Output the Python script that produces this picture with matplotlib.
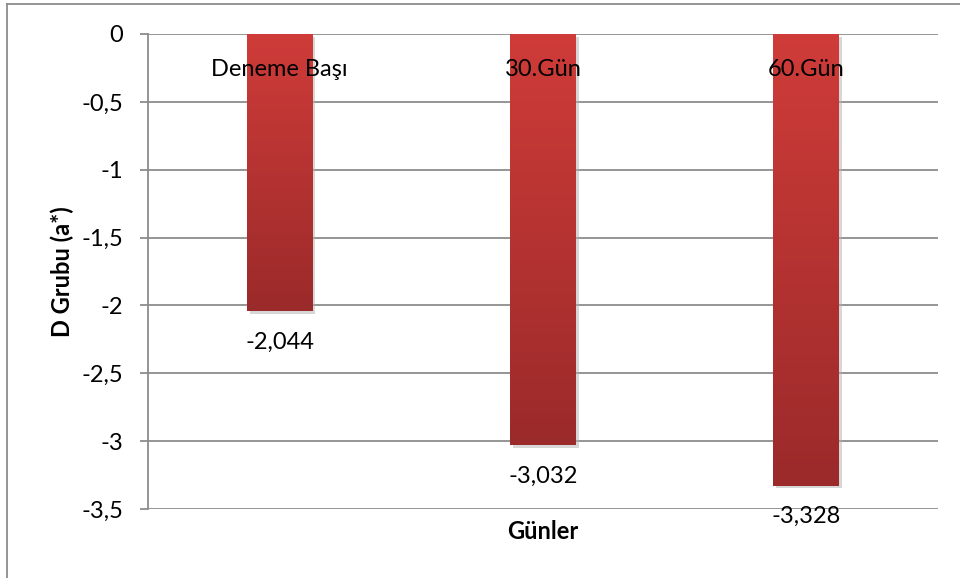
import numpy as np
import matplotlib
matplotlib.use("Agg")
import matplotlib.pyplot as plt
import matplotlib.patheffects as pe
from matplotlib.colors import LinearSegmentedColormap
from matplotlib.lines import Line2D

plt.rcParams['font.family'] = ['Lato', 'DejaVu Sans']

categories = ["Deneme Başı", "30.Gün", "60.Gün"]
values = [-2.044, -3.032, -3.328]
yticks = [0, -0.5, -1, -1.5, -2, -2.5, -3, -3.5]

FS = 17

def comma(v, fmt):
    return (fmt.format(v)).replace(".", ",")

fig = plt.figure(figsize=(9.6, 5.78), dpi=100)
ax = fig.add_axes([148/960, 1-509/578, (938-148)/960, (509-34)/578])

x = np.arange(len(categories))
width = 0.25
bars = ax.bar(x, values, width=width, color="#b83432", zorder=3,
              path_effects=[pe.SimplePatchShadow(offset=(2, -2), shadow_rgbFace="#b0b0b0", alpha=0.5),
                            pe.Normal()])

# vertical red gradient inside each bar
grad_cmap = LinearSegmentedColormap.from_list("redgrad", ["#9b2a2a", "#cf3c39"])
grad = np.linspace(0, 1, 256).reshape(-1, 1)
for b in bars:
    x0, y0 = b.get_x(), b.get_y()
    w, h = b.get_width(), b.get_height()
    im = ax.imshow(grad, cmap=grad_cmap, aspect="auto", origin="lower",
                   extent=[x0, x0 + w, y0 + h, y0], zorder=4)
    im.set_clip_path(b)

ax.set_xlim(-0.5, len(categories) - 0.5)
ax.set_ylim(-3.5, 0)
ax.set_yticks(yticks)
ax.set_yticklabels([comma(t, "{:g}") for t in yticks], fontsize=FS)
ax.set_xticks([])
ax.grid(axis="y", color="#8c8c8c", linewidth=1.3, zorder=1)
ax.tick_params(axis="y", length=6, width=1.3, color="#8c8c8c", pad=12)
for s in ["top", "right", "bottom"]:
    ax.spines[s].set_visible(False)
ax.spines["left"].set_color("#8c8c8c")
ax.spines["left"].set_linewidth(1.3)
ax.spines["left"].set_zorder(5)

for xi, cat in zip(x, categories):
    ax.text(xi, -0.265, cat, ha="center", va="center", fontsize=FS, zorder=6)

for xi, v in zip(x, values):
    ax.annotate(comma(v, "{:.3f}"), (xi, v), xytext=(0, -22), textcoords="offset points",
                ha="center", va="center", fontsize=FS, zorder=6)

ax.set_ylabel("D Grubu (a*)", fontsize=FS, fontweight="bold", labelpad=5)
ax.annotate("Günler", (1, -3.5), xytext=(0, -16), textcoords="offset points",
            ha="center", va="center", fontsize=FS, fontweight="bold")

# outer chart frame
fig.add_artist(Line2D([7/960, 1], [1-4/578, 1-4/578], transform=fig.transFigure, color="#8c8c8c", lw=1.3))
fig.add_artist(Line2D([7/960, 7/960], [0, 1-4/578], transform=fig.transFigure, color="#8c8c8c", lw=1.3))

fig.savefig("out.png", dpi=100)
